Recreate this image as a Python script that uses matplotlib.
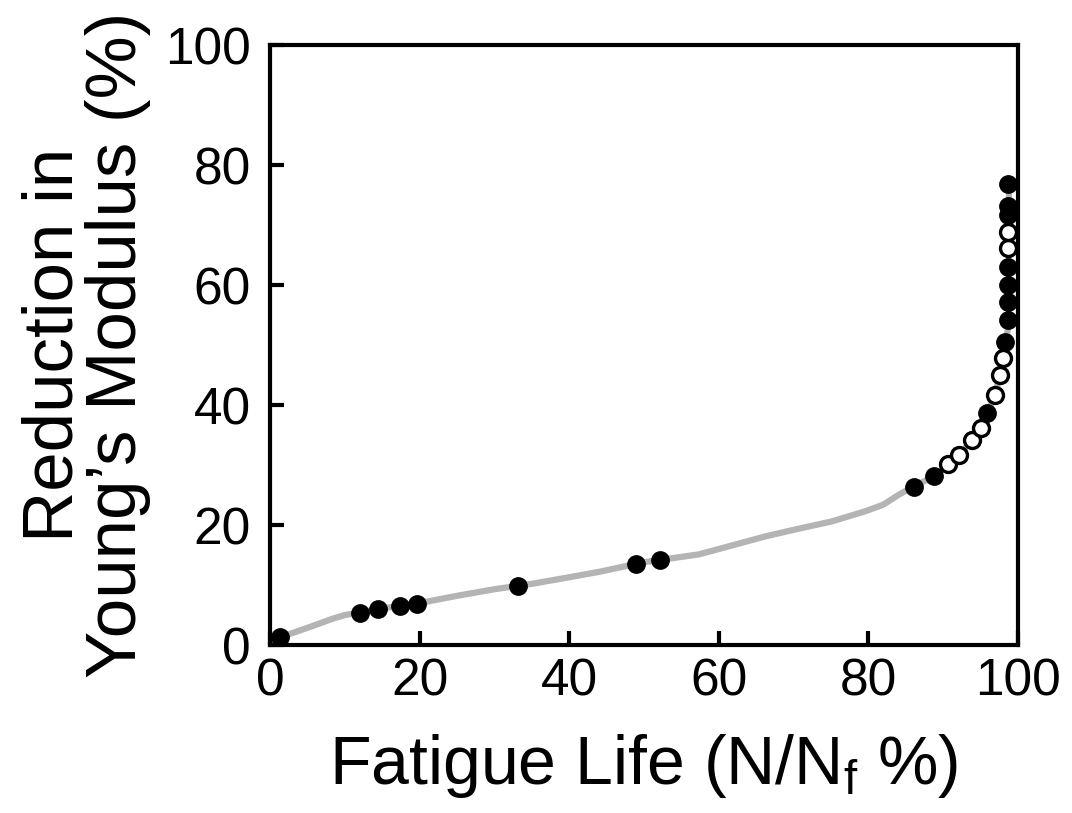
import matplotlib
matplotlib.use("Agg")
import matplotlib.pyplot as plt

plt.rcParams['font.family'] = ['Liberation Sans', 'DejaVu Sans']
plt.rcParams['mathtext.default'] = 'regular'

curve_x = [0.5, 1.3, 3, 5.3, 8.4, 10, 12, 15, 20, 25, 30, 35, 40, 44, 50, 57.3, 60, 66.2, 70,
           75.1, 79.6, 82, 84, 86, 88.8, 90.6, 92.1, 93.8, 95.0, 95.9, 96.9, 97.6, 98.0,
           98.4, 98.8, 98.8]
curve_y = [0.8, 1.3, 2.0, 3.0, 4.4, 5.0, 5.4, 6.1, 7.0, 8.2, 9.3, 10.2, 11.3, 12.2, 13.8,
           15.1, 16.0, 18.1, 19.2, 20.6, 22.3, 23.4, 25.0, 26.4, 28.1, 30.1, 31.6, 34.1,
           36.2, 38.6, 41.6, 45.0, 47.8, 50.6, 54.0, 77.0]

# filled markers
filled_x = [1.3, 12.0, 14.4, 17.4, 19.6, 33.2, 48.9, 52.1, 86.1, 88.8, 95.9, 98.3,
            98.7, 98.7, 98.7, 98.7, 98.7, 98.7, 98.7]
filled_y = [1.3, 5.4, 6.0, 6.5, 6.9, 9.9, 13.5, 14.2, 26.4, 28.1, 38.6, 50.5,
            54.1, 57.1, 60.0, 63.0, 71.6, 73.2, 76.9]

# open markers
open_x = [90.6, 92.1, 93.8, 95.0, 96.9, 97.6, 98.0, 98.7, 98.7]
open_y = [30.1, 31.6, 34.1, 36.2, 41.6, 45.0, 47.8, 66.1, 68.8]

xticks = [0, 20, 40, 60, 80, 100]
yticks = [0, 20, 40, 60, 80, 100]

fig = plt.figure(figsize=(10.72, 8.13), dpi=100)
ax = fig.add_axes([0.2519, 0.2066, 0.6977, 0.738])

ax.plot(curve_x, curve_y, color='#b4b4b4', lw=4.5, solid_capstyle='round',
        solid_joinstyle='round', zorder=1)
ax.plot(open_x, open_y, 'o', ms=11.5, mfc='white', mec='black', mew=2.4, ls='none', zorder=3)
ax.plot(filled_x, filled_y, 'o', ms=12.5, mfc='black', mec='black', ls='none', zorder=4)

ax.set_xlim(0, 100)
ax.set_ylim(0, 100)
ax.set_xticks(xticks)
ax.set_yticks(yticks)
ax.tick_params(direction='in', length=10, width=3.0, labelsize=37,
               top=False, right=False)
ax.tick_params(axis='x', pad=9)
ax.tick_params(axis='y', pad=14)
for s in ax.spines.values():
    s.set_linewidth(3.0)

ax.set_xlabel('Fatigue Life (N/N$_{f}$ %)', fontsize=49, labelpad=18)
ax.set_ylabel('Reduction in\nYoung\u2019s Modulus (%)', fontsize=51, labelpad=10,
              linespacing=0.95)

fig.savefig('out.png', dpi=100)
